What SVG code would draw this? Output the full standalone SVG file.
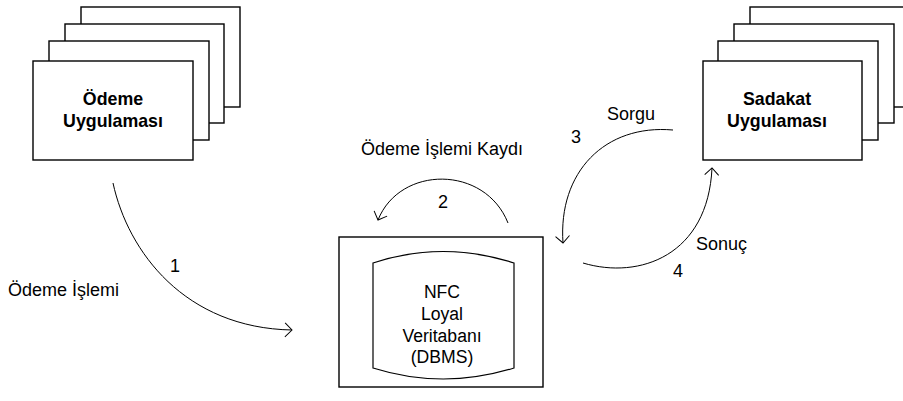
<svg xmlns="http://www.w3.org/2000/svg" width="903" height="401" viewBox="0 0 903 401">
<style>
.box{fill:#fff;stroke:#000;stroke-width:1.4}
.t{font-family:"Liberation Sans",Arial,sans-serif;font-size:18px;fill:#000}
.d{font-size:17.6px}
.b{font-weight:bold;text-anchor:middle;font-size:17.8px}
.m{text-anchor:middle}
.c{fill:none;stroke:#000;stroke-width:1;marker-end:url(#ah)}
</style>
<defs>
<marker id="ah" markerUnits="userSpaceOnUse" markerWidth="20" markerHeight="20" refX="0" refY="0" viewBox="-10 -10 20 20" orient="auto">
<path d="M-7,-7 L0,0 L-7,7" fill="none" stroke="#000" stroke-width="1"/>
</marker>
</defs>
<rect width="903" height="401" fill="#fff"/>
<g id="odeme-uygulamasi">
<rect class="box" x="81" y="7" width="159" height="100"/>
<rect class="box" x="65" y="24" width="159" height="99"/>
<rect class="box" x="49" y="41" width="160" height="99"/>
<rect class="box" x="33" y="61" width="160" height="99"/>
<text class="t b" x="113" y="105">Ödeme</text>
<text class="t b" x="113" y="127">Uygulaması</text>
</g>
<g id="sadakat-uygulamasi">
<rect class="box" x="750" y="7" width="160" height="100"/>
<rect class="box" x="734" y="24" width="160" height="99"/>
<rect class="box" x="718" y="41" width="160" height="99"/>
<rect class="box" x="703" y="61" width="159" height="99"/>
<text class="t b" x="777" y="105">Sadakat</text>
<text class="t b" x="777" y="127">Uygulaması</text>
</g>
<g id="veritabani">
<rect class="box" x="339" y="237" width="204" height="150"/>
<path d="M373,263 Q443,240 514,263 L514,368 Q443,390 373,368 Z" fill="#fff" stroke="#000" stroke-width="1.2"/>
<text class="t d m" x="442" y="298">NFC</text>
<text class="t d m" x="442" y="320">Loyal</text>
<text class="t d m" x="442" y="342">Veritabanı</text>
<text class="t d m" x="442" y="363">(DBMS)</text>
</g>
<g id="connectors">
<path class="c" d="M113,183 C128,252 185,328 292,330"/>
<path class="c" d="M508,223 C485,165 400,165 378,220"/>
<path class="c" d="M673,130 C605,124 558,172 563,243"/>
<path class="c" d="M583,263 C640,280 708,255 712,168"/>
</g>
<g id="labels">
<text class="t" x="8" y="296">Ödeme İşlemi</text>
<text class="t m" x="175" y="272">1</text>
<text class="t" x="361" y="155">Ödeme İşlemi Kaydı</text>
<text class="t m" x="443" y="208">2</text>
<text class="t" x="607" y="120">Sorgu</text>
<text class="t m" x="576" y="143">3</text>
<text class="t" x="696" y="250">Sonuç</text>
<text class="t m" x="678" y="277">4</text>
</g>
</svg>
